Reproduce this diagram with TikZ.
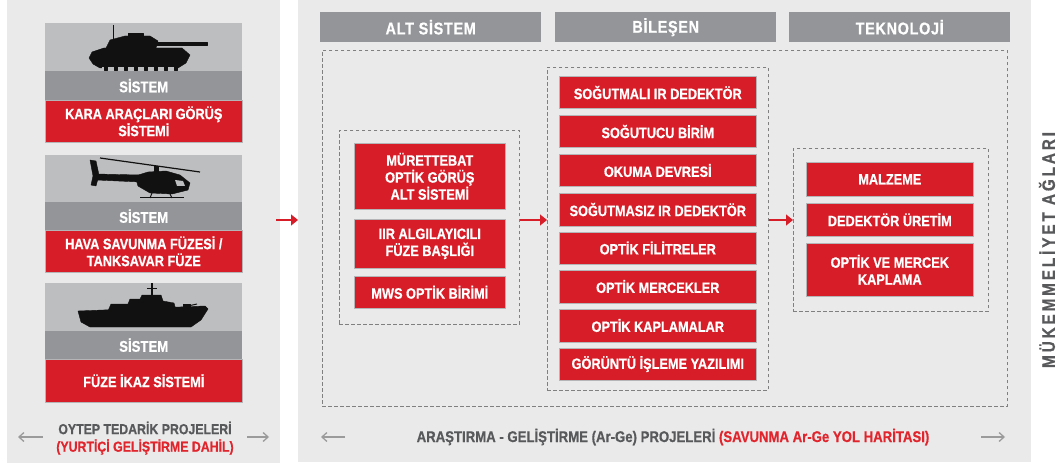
\documentclass[tikz,border=0pt]{standalone}
\usepackage{fontspec}
\setmainfont{Liberation Sans}[FakeStretch=0.85, BoldFeatures={FakeBold=0.6}]
\usetikzlibrary{arrows.meta}
\definecolor{panel}{HTML}{EAEAEB}
\definecolor{hdr}{HTML}{939598}
\definecolor{imgbg}{HTML}{BDBEC0}
\definecolor{cred}{HTML}{D71E28}
\definecolor{txtred}{HTML}{E1252D}
\definecolor{dkgray}{HTML}{58595B}
\definecolor{dashc}{HTML}{808080}
\definecolor{arrgray}{HTML}{9B9B9B}
\definecolor{boxline}{HTML}{B5B5B7}
\definecolor{silh}{HTML}{111111}
\begin{document}
\begin{tikzpicture}[x=1pt,y=-1pt,
  panelbox/.style={fill=panel, draw=none, anchor=north west, inner sep=0},
  hdrbox/.style={fill=hdr, draw=none, anchor=north west, inner sep=0, text=white,
    font=\bfseries\fontsize{17}{19}\selectfont\addfontfeature{LetterSpace=4}, minimum width=221, minimum height=30},
  imgbox/.style={fill=imgbg, draw=none, anchor=north west, inner sep=0, minimum width=197},
  sysbar/.style={fill=hdr, draw=none, anchor=north west, inner sep=0, minimum width=197,
    text=white, font=\bfseries\fontsize{15.5}{17}\selectfont},
  redbox/.style={fill=cred, draw=boxline, line width=0.6, text=white, align=center,
    font=\bfseries\fontsize{15}{17}\selectfont, inner sep=0, anchor=north west},
  dashbox/.style={draw=dashc, line width=0.8, dash pattern=on 3.5pt off 2.5pt,
    anchor=north west, inner sep=0},
  redarr/.style={draw=cred, line width=1.3, -{Triangle[length=7pt,width=11pt]}},
  grayarr/.style={draw=arrgray, line width=1.3, -{Straight Barb[length=5pt,width=9pt]}},
  silhouette/.style={fill=silh, draw=silh, line width=0.4, line join=round},
  bottomtxt/.style={font=\bfseries\fontsize{14.5}{16}\selectfont, inner sep=0}
]
\useasboundingbox (0,0) rectangle (1062,465);
\fill[white] (0,0) rectangle (1062,465);

% panels
\node[panelbox, minimum width=273, minimum height=463] (leftpanel) at (7,0) {};
\node[panelbox, minimum width=733, minimum height=462] (rightpanel) at (298,0) {};

% ---------- left cards ----------
\node[imgbox, minimum height=48] (img1) at (45,23) {};
\node[sysbar, minimum height=29] (sys1) at (45,71) {SİSTEM};
\node[redbox, minimum width=197, minimum height=42] (card1) at (45,100) {KARA ARAÇLARI GÖRÜŞ\\SİSTEMİ};

\node[imgbox, minimum height=47] (img2) at (45,155) {};
\node[sysbar, minimum height=28] (sys2) at (45,202) {SİSTEM};
\node[redbox, minimum width=197, minimum height=42] (card2) at (45,230) {HAVA SAVUNMA FÜZESİ /\\TANKSAVAR FÜZE};

\node[imgbox, minimum height=48] (img3) at (45,283) {};
\node[sysbar, minimum height=28] (sys3) at (45,331) {SİSTEM};
\node[redbox, minimum width=197, minimum height=43] (card3) at (45,359) {FÜZE İKAZ SİSTEMİ};

% tank
\fill[silhouette] (89,58) -- (92,52) -- (104,48) -- (182,48) -- (190,55) -- (186,63) -- (178,68) -- (100,68) -- (93,64) -- cycle;
\fill[silhouette] (106,48) -- (110,40) -- (125,36) -- (150,36) -- (158,41) -- (156,48) -- cycle;
\fill[silhouette] (155,42.5) rectangle (207,45.5);
\fill[silhouette] (128,33) rectangle (143,37);
\draw[silh, line width=1] (113,25) -- (113,40);
\fill[imgbg] (102,67) rectangle (176,69.5);
\foreach \w in {104,114,124,134,144,154,164,174}
  \fill[silhouette] (\w,66) rectangle (\w+3,70);

% helicopter
\draw[silh, line width=1.2] (100,158) -- (200,172);
\fill[silhouette] (154,166) rectangle (158,174);
\fill[silhouette] (90,160) -- (96,161) -- (99,175) -- (96,186) -- (91,185) -- (93,176) -- cycle;
\fill[silhouette] (96,174) -- (140,175) -- (140,182) -- (96,180) -- cycle;
\fill[silhouette] (135,176) -- (148,172) -- (166,171) -- (180,175) -- (190,183) -- (188,190) -- (172,194) -- (150,193) -- (138,186) -- cycle;
\draw[silh, line width=1] (140,198) -- (184,198);
\draw[silh, line width=1] (152,193) -- (150,198) (170,194) -- (172,198);
\fill[imgbg] (175,180) -- (183,181) -- (185,186) -- (177,186) -- cycle;

% ship
\fill[silhouette] (78,311) -- (205,306) -- (208,309) -- (201,320) -- (191,327) -- (90,327) -- (81,322) -- cycle;
\fill[silhouette] (108,311) -- (111,304) -- (128,304) -- (130,299) -- (140,299) -- (142,295) -- (161,295) -- (163,301) -- (174,303) -- (176,310) -- cycle;
\draw[silh, line width=1.5] (152,283) -- (152,297);
\draw[silh, line width=1] (147,288) -- (157,288);
\fill[silhouette] (183,304) rectangle (190,308);
\draw[silh, line width=1] (188,306) -- (197,304);

% bottom-left caption
\node[bottomtxt, text=dkgray] (oytep1) at (145,428) {OYTEP TEDARİK PROJELERİ};
\node[bottomtxt, text=txtred] (oytep2) at (145,447) {(YURTİÇİ GELİŞTİRME DAHİL)};
\coordinate (la1) at (43,437);
\coordinate (la2) at (18,437);
\coordinate (la3) at (247,437);
\coordinate (la4) at (269,437);
\draw[grayarr] (la1) -- (la2);
\draw[grayarr] (la3) -- (la4);

% ---------- right panel ----------
\node[hdrbox] (h1) at (320,12) {ALT SİSTEM};
\node[hdrbox] (h2) at (555,12) {BİLEŞEN};
\node[hdrbox] (h3) at (789,12) {TEKNOLOJİ};

\node[dashbox, minimum width=685, minimum height=356] (outer) at (322,50) {};
\node[dashbox, minimum width=180, minimum height=194] (altbox) at (339,130) {};
\node[dashbox, minimum width=221, minimum height=323] (bilbox) at (547,67) {};
\node[dashbox, minimum width=195, minimum height=163] (tekbox) at (793,148) {};

% alt sistem
\node[redbox, minimum width=151, minimum height=66] (a1) at (354,143) {MÜRETTEBAT\\OPTİK GÖRÜŞ\\ALT SİSTEMİ};
\node[redbox, minimum width=151, minimum height=49] (a2) at (354,219) {IIR ALGILAYICILI\\FÜZE BAŞLIĞI};
\node[redbox, minimum width=151, minimum height=32] (a3) at (354,276) {MWS OPTİK BİRİMİ};

% bilesen
\node[redbox, minimum width=197, minimum height=32.5] (b1) at (559,76) {SOĞUTMALI IR DEDEKTÖR};
\node[redbox, minimum width=197, minimum height=32.5] (b2) at (559,115) {SOĞUTUCU BİRİM};
\node[redbox, minimum width=197, minimum height=32.5] (b3) at (559,154) {OKUMA DEVRESİ};
\node[redbox, minimum width=197, minimum height=32.5] (b4) at (559,193) {SOĞUTMASIZ IR DEDEKTÖR};
\node[redbox, minimum width=197, minimum height=32.5] (b5) at (559,231.5) {OPTİK FİLİTRELER};
\node[redbox, minimum width=197, minimum height=32.5] (b6) at (559,270) {OPTİK MERCEKLER};
\node[redbox, minimum width=197, minimum height=32.5] (b7) at (559,309) {OPTİK KAPLAMALAR};
\node[redbox, minimum width=197, minimum height=32.5] (b8) at (559,347.5) {GÖRÜNTÜ İŞLEME YAZILIMI};

% teknoloji
\node[redbox, minimum width=167, minimum height=34] (t1) at (806,162) {MALZEME};
\node[redbox, minimum width=167, minimum height=33] (t2) at (806,203) {DEDEKTÖR ÜRETİM};
\node[redbox, minimum width=167, minimum height=53] (t3) at (806,243) {OPTİK VE MERCEK\\KAPLAMA};

% red arrows
\coordinate (lp0) at (276,220);
\draw[redarr] (lp0) -- (rightpanel.west |- lp0);
\draw[redarr] (altbox.east |- 0,220) -- (bilbox.west |- 0,220);
\draw[redarr] (bilbox.east |- 0,220) -- (tekbox.west |- 0,220);

% bottom-right caption
\node[bottomtxt, font=\bfseries\fontsize{15.5}{17}\selectfont] (arge) at (673,437) {\textcolor{dkgray}{ARAŞTIRMA - GELİŞTİRME (Ar-Ge) PROJELERİ} \textcolor{txtred}{(SAVUNMA Ar-Ge YOL HARİTASI)}};
\coordinate (ra1) at (345,437);
\coordinate (ra2) at (321,437);
\coordinate (ra3) at (981,437);
\coordinate (ra4) at (1005,437);
\draw[grayarr] (ra1) -- (ra2);
\draw[grayarr] (ra3) -- (ra4);

% side label
\node[rotate=90, text=dkgray, inner sep=0, font=\bfseries\fontsize{18}{20}\selectfont\addfontfeature{LetterSpace=16}] (mukemmel) at (1047,250) {MÜKEMMELİYET AĞLARI};
\end{tikzpicture}
\end{document}
